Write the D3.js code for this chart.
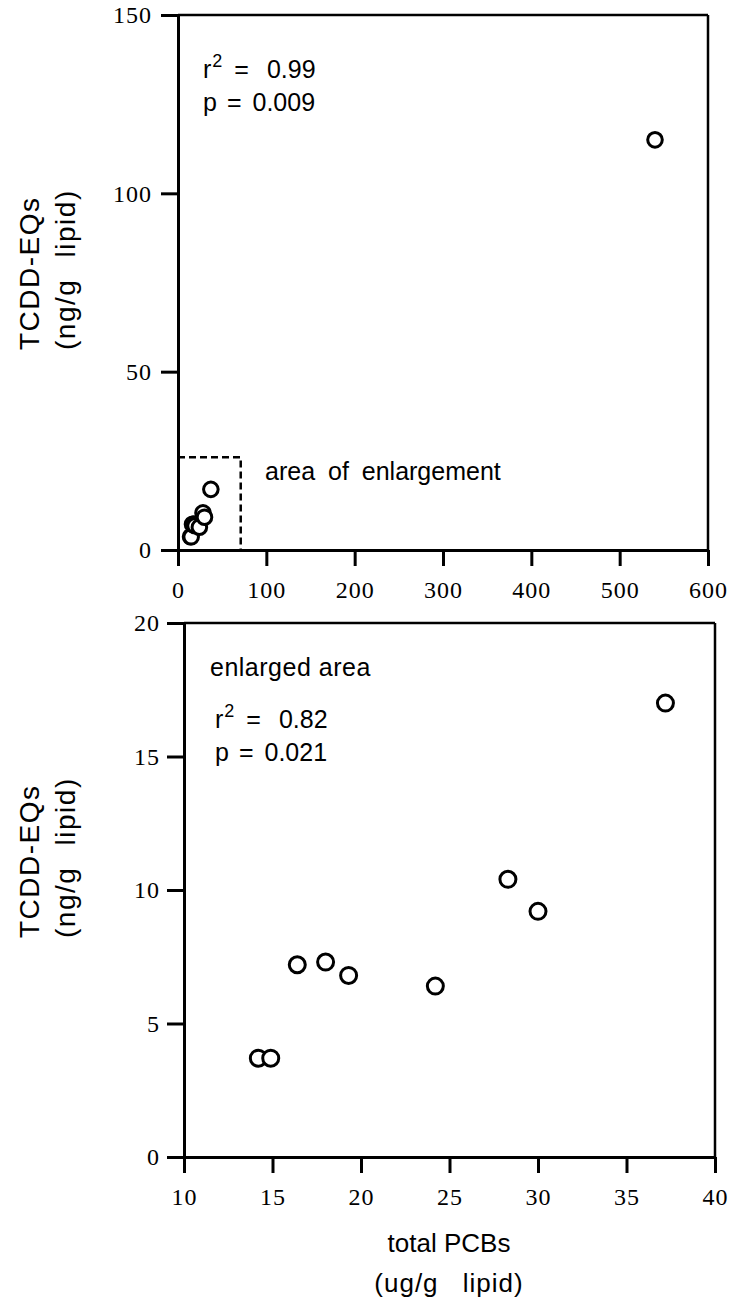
<!DOCTYPE html>
<html>
<head>
<meta charset="utf-8">
<script src="https://cdn.jsdelivr.net/npm/d3@7"></script>
<style>
  html, body { margin: 0; padding: 0; background: #fff; }
  svg { display: block; }
  .tick text { font-family: "Liberation Serif", "Times New Roman", serif; font-size: 24px; fill: #000; letter-spacing: 1px; }
  .lbl { font-family: "Liberation Sans", Arial, Helvetica, sans-serif; font-size: 25px; fill: #000; }
  .ytitle { font-family: "Liberation Sans", Arial, Helvetica, sans-serif; font-size: 28px; fill: #000; letter-spacing: 1.5px; }
</style>
</head>
<body>
<script>
// Enlarged-area samples: total PCBs (ug/g lipid) vs TCDD-EQs (ng/g lipid)
const pcbs    = [14.2, 14.9, 16.4, 18.0, 19.3, 24.2, 28.3, 30.0, 37.2];
const tcddEqs = [3.7, 3.7, 7.2, 7.3, 6.8, 6.4, 10.4, 9.2, 17.0];
// The one high sample only shown in the full-range panel
const outlierPcbs = [540];
const outlierEqs  = [115];
// Outline of the region that the lower panel enlarges (upper-panel units)
const enlargeX = [0, 71];
const enlargeY = [0, 26];

const topXTicks = [0, 100, 200, 300, 400, 500, 600];
const topYTicks = [0, 50, 100, 150];
const botXTicks = [10, 15, 20, 25, 30, 35, 40];
const botYTicks = [0, 5, 10, 15, 20];

const W = 734, H = 1302;
const svg = d3.select("body").append("svg").attr("width", W).attr("height", H);

function panel(opts) {
  const { x, y, xTicks, yTicks, ylabelStart, yPad } = opts;
  const g = svg.append("g");

  // frame: top and right borders
  const [x0, x1] = x.range();
  const [y0, y1] = y.range();
  g.append("line").attr("x1", x0).attr("x2", x1).attr("y1", y1).attr("y2", y1)
    .attr("stroke", "#000").attr("stroke-width", 2.5);
  g.append("line").attr("x1", x1).attr("x2", x1).attr("y1", y1).attr("y2", y0)
    .attr("stroke", "#000").attr("stroke-width", 2.5);

  const xa = g.append("g").attr("transform", `translate(0,${y0})`)
    .call(d3.axisBottom(x).tickValues(xTicks).tickSize(16).tickSizeOuter(0).tickPadding(10));
  const ya = g.append("g").attr("transform", `translate(${x0},0)`)
    .call(d3.axisLeft(y).tickValues(yTicks).tickSize(17).tickSizeOuter(0).tickPadding(yPad));
  [xa, ya].forEach(a => {
    a.select(".domain").attr("stroke", "#000").attr("stroke-width", 3);
    a.selectAll(".tick line").attr("stroke", "#000").attr("stroke-width", 3);
    a.selectAll(".tick text").attr("font-family", null).attr("font-size", null);
  });
  xa.selectAll(".tick text").attr("dy", "0.9em");

  // rotated y-axis title, two lines
  const yl = g.append("text").attr("class", "ytitle")
    .attr("transform", `translate(0,${ylabelStart}) rotate(-90)`)
    .attr("text-anchor", "start");
  yl.append("tspan").attr("x", 0).attr("y", 39).text("TCDD-EQs");
  yl.append("tspan").attr("x", 0).attr("y", 75)
    .attr("word-spacing", "12px").text("(ng/g lipid)");
  return g;
}

function stats(g, xPos, yBase, r2, p) {
  const t1 = g.append("text").attr("class", "lbl").attr("x", xPos).attr("y", yBase);
  t1.append("tspan").text("r");
  t1.append("tspan").attr("font-size", 18).attr("dy", -11).attr("dx", 1).text("2");
  t1.append("tspan").attr("dx", 12).attr("dy", 11).text("=");
  t1.append("tspan").attr("dx", 18).text(r2);
  const t2 = g.append("text").attr("class", "lbl").attr("x", xPos).attr("y", yBase + 33);
  t2.append("tspan").text("p");
  t2.append("tspan").attr("dx", 10).text("=");
  t2.append("tspan").attr("dx", 11).text(p);
}

// ---- Upper panel: full range ----
const xTop = d3.scaleLinear().domain([0, 600]).range([178, 708]);
const yTop = d3.scaleLinear().domain([0, 150]).range([550, 15]);
const gTop = panel({ x: xTop, y: yTop, xTicks: topXTicks, yTicks: topYTicks, ylabelStart: 350, yPad: 9 });

gTop.append("path")
  .attr("d", `M${xTop(enlargeX[0])},${yTop(enlargeY[1])}H${xTop(enlargeX[1])}V${yTop(enlargeY[0])}`)
  .attr("fill", "none").attr("stroke", "#000").attr("stroke-width", 2.5)
  .attr("stroke-dasharray", "7,4");

gTop.append("text").attr("class", "lbl").attr("x", 265).attr("y", 480)
  .attr("word-spacing", "6px").text("area of enlargement");

stats(gTop, 203, 78, "0.99", "0.009");

const topPts = pcbs.map((v, i) => [v, tcddEqs[i]])
  .concat(outlierPcbs.map((v, i) => [v, outlierEqs[i]]));
gTop.selectAll("circle.pt").data(topPts).join("circle").attr("class", "pt")
  .attr("cx", d => xTop(d[0])).attr("cy", d => yTop(d[1])).attr("r", 7.3)
  .attr("fill", "#fff").attr("stroke", "#000").attr("stroke-width", 3);

// ---- Lower panel: enlarged area ----
const xBot = d3.scaleLinear().domain([10, 40]).range([184, 715]);
const yBot = d3.scaleLinear().domain([0, 20]).range([1157, 623]);
const gBot = panel({ x: xBot, y: yBot, xTicks: botXTicks, yTicks: botYTicks, ylabelStart: 938, yPad: 7 });

gBot.append("text").attr("class", "lbl").attr("x", 210).attr("y", 676)
  .attr("font-size", 27).attr("letter-spacing", "0.5px").text("enlarged area");
stats(gBot, 215, 728, "0.82", "0.021");

gBot.selectAll("circle.pt").data(pcbs.map((v, i) => [v, tcddEqs[i]])).join("circle").attr("class", "pt")
  .attr("cx", d => xBot(d[0])).attr("cy", d => yBot(d[1])).attr("r", 8)
  .attr("fill", "#fff").attr("stroke", "#000").attr("stroke-width", 3);

// x-axis title under the lower panel
const xt = gBot.append("text").attr("class", "lbl").attr("text-anchor", "middle");
xt.append("tspan").attr("x", 449).attr("y", 1252).attr("font-size", 26).text("total PCBs");
xt.append("tspan").attr("x", 449).attr("y", 1292).attr("font-size", 26)
  .attr("letter-spacing", "1px").attr("word-spacing", "16px").text("(ug/g lipid)");
</script>
</body>
</html>
